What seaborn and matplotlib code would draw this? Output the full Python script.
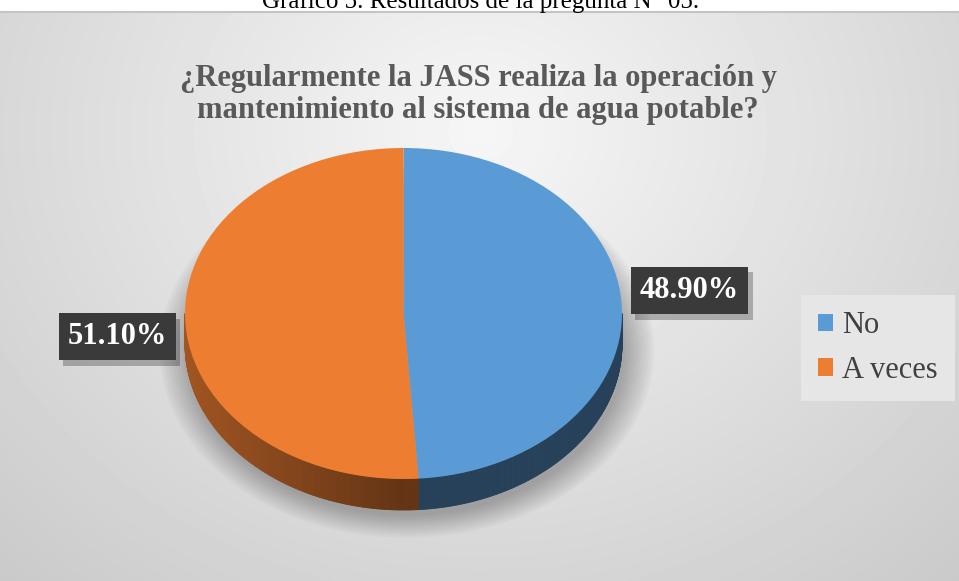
import numpy as np
import matplotlib
matplotlib.use("Agg")
import matplotlib.pyplot as plt
import matplotlib.colors as mcolors
import matplotlib.patheffects as pe
from matplotlib.collections import PolyCollection
from matplotlib.patches import Ellipse
from matplotlib.lines import Line2D
import seaborn as sns

# ---------------- data ----------------
categories = ["No", "A veces"]
values = [48.9, 51.1]
colors = ["#5B9BD5", "#ED7D31"]
caption = "Gráfico 5. Resultados de la pregunta N° 05."
title_lines = ["¿Regularmente la JASS realiza la operación y",
               "mantenimiento al sistema de agua potable?"]

sns.set_style("white")
plt.rcParams["font.family"] = ["Liberation Serif", "DejaVu Serif"]

W, H = 959, 581
fig = plt.figure(figsize=(W / 100, H / 100), dpi=100)
fig.patch.set_facecolor("white")

# ---------------- background ----------------
top = 12
bg = fig.add_axes([0, 0, 1, (H - top) / H])
yy, xx = np.mgrid[0:H - top, 0:W]
d = np.sqrt(((xx - 480) / 650.0) ** 2 + ((yy - 120) / 560.0) ** 2)
val = np.clip(0.965 - 0.16 * d, 0, 1)
bg.imshow(val, cmap="gray", vmin=0, vmax=1, extent=(0, W, H - top, 0),
          aspect="auto", interpolation="bilinear")
bg.axis("off")
fig.add_artist(Line2D([0, 1], [(H - top) / H] * 2, color="#c4c4c4", lw=1.5,
                      transform=fig.transFigure))

fig.text(481 / W, 1 - 8 / H, caption, ha="center", va="baseline",
         fontsize=18, color="black")

for i, line in enumerate(title_lines):
    fig.text(478 / W, 1 - (86 + 32 * i) / H, line, ha="center", va="baseline",
             fontsize=22, fontweight="bold", color="#595959")

# ---------------- pie ----------------
cx, cy, a, b, depth = 403.5, 313.5, 218.5, 165.5, 31.0
ax = fig.add_axes([0, 0, 1, 1])
ax.patch.set_alpha(0)
wedges, _ = ax.pie(values, colors=colors, startangle=90, counterclock=False,
                   radius=1, wedgeprops=dict(linewidth=0, zorder=5))
ax.set_aspect("auto")
ax.set_xlim(-cx / a, (W - cx) / a)
ax.set_ylim(-(H - cy) / b, cy / b)
ax.axis("off")
dz = depth / b

# soft shadow
for i in range(12):
    s = 1.0 + 0.012 * i
    ax.add_patch(Ellipse((0.015, -dz - 0.035), 2 * s, 2 * s, fc="black",
                         alpha=0.025, lw=0, zorder=1))

# side walls
def shade(c, f):
    return tuple(np.clip(np.array(mcolors.to_rgb(c)) * f, 0, 1))

for w, c in zip(wedges, colors):
    for k in (-360, 0, 360):
        lo = max(w.theta1 + k, -180)
        hi = min(w.theta2 + k, 0)
        if lo >= hi:
            continue
        ts = np.linspace(lo, hi, int((hi - lo) * 2) + 2)
        polys, cols = [], []
        for s1, s2 in zip(ts[:-1], ts[1:]):
            r1, r2 = np.deg2rad(s1), np.deg2rad(s2)
            polys.append([(np.cos(r1), np.sin(r1)), (np.cos(r2), np.sin(r2)),
                          (np.cos(r2), np.sin(r2) - dz), (np.cos(r1), np.sin(r1) - dz)])
            m = np.deg2rad((s1 + s2) / 2)
            f = 0.42 + 0.26 * max(0.0, -np.cos(m))
            cols.append(shade(c, f))
        ax.add_collection(PolyCollection(polys, facecolors=cols, edgecolors=cols,
                                         linewidths=0.6, zorder=3))

# data labels
for w, v in zip(wedges, values):
    m = np.deg2rad((w.theta1 + w.theta2) / 2)
    lx = 1.31 * np.cos(m)
    ly = 0.14 * np.sign(np.cos(m))
    t = ax.text(lx, ly, f"{v:.2f}%", ha="center", va="center", fontsize=22,
                fontweight="bold", color="white", zorder=10,
                bbox=dict(boxstyle="square,pad=0.3", fc="#3a3a3a", ec="none"))
    t.get_bbox_patch().set_path_effects([
        pe.SimplePatchShadow(offset=(3, -4), shadow_rgbFace="black", alpha=0.25),
        pe.Normal()])

# legend
leg = fig.legend(wedges, categories, loc="center",
                 bbox_to_anchor=(878 / W, 1 - 348 / H), frameon=True, fontsize=22,
                 handlelength=0.5, handleheight=0.5, handletextpad=0.3,
                 labelspacing=0.5, borderpad=0.25, borderaxespad=0)
fr = leg.get_frame()
fr.set_facecolor("#e6e6e6")
fr.set_edgecolor("none")
fr.set_alpha(1)
fr.set_boxstyle("square")
for t in leg.get_texts():
    t.set_color("#404040")

fig.savefig("out.png", dpi=100)
